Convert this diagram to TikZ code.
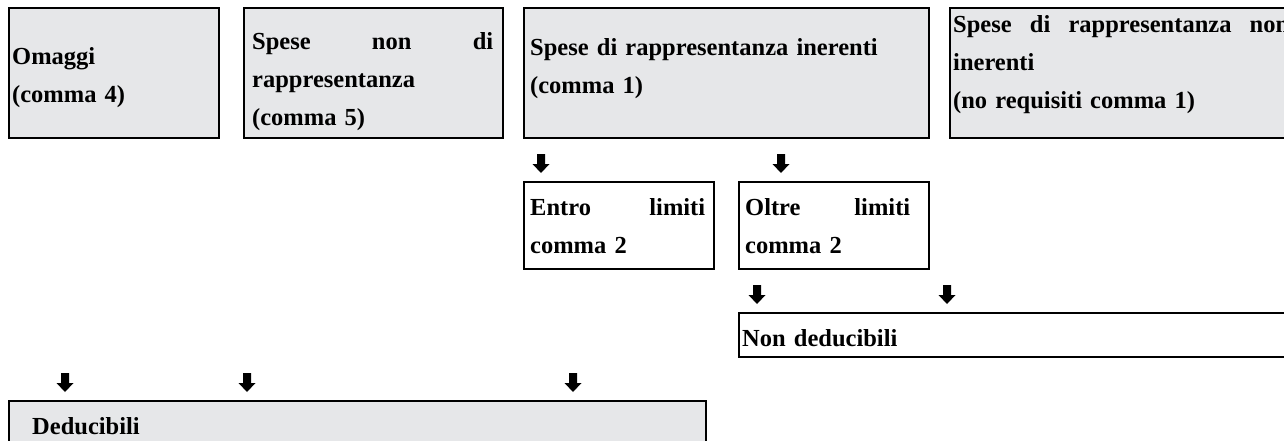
\documentclass[tikz,border=0pt]{standalone}
\usepackage{fontspec}
\setmainfont{Liberation Serif}
\definecolor{boxgray}{RGB}{230,231,233}
\begin{document}
\begin{tikzpicture}[x=1pt,y=-1pt,
  box/.style={draw=black, line width=2pt, inner sep=0pt, anchor=north west},
  graybox/.style={box, fill=boxgray},
  whitebox/.style={box, fill=white},
  txt/.style={anchor=base west, inner sep=0pt, align=left, font=\bfseries\fontsize{24.5}{38}\selectfont},
  darr/.pic={\fill[black] (-4,0) -- (4,0) -- (4,10) -- (8.5,10) -- (0,19) -- (-8.5,10) -- (-4,10) -- cycle;}
]
\useasboundingbox (0,0) rectangle (1284,441);
\clip (0,0) rectangle (1284,441);
% boxes
\node[graybox, minimum width=210, minimum height=130] (om) at (8,7) {};
\node[graybox, minimum width=259, minimum height=130] (snd) at (243,7) {};
\node[graybox, minimum width=405, minimum height=130] (sri) at (523,7) {};
\node[graybox, minimum width=350, minimum height=130] (srn) at (949,7) {};
\node[whitebox, minimum width=190, minimum height=87] (ent) at (523,181) {};
\node[whitebox, minimum width=190, minimum height=87] (olt) at (738,181) {};
\node[whitebox, minimum width=560, minimum height=44] (nded) at (738,312) {};
\node[graybox, minimum width=697, minimum height=60] (ded) at (8,400) {};
% texts
\node[txt, text width=200] (tom) at (12,65) {Omaggi\\(comma 4)};
\node[txt, text width=241] (tsnd) at (252,50) {\hbox to\linewidth{Spese\hfill non\hfill di}\\rappresentanza\\(comma 5)};
\node[txt, text width=390] (tsri) at (530,56) {Spese di rappresentanza inerenti\\(comma 1)};
\node[txt, text width=336] (tsrn) at (953,33) {\hbox to\linewidth{Spese\hfill di\hfill rappresentanza\hfill non}\\inerenti\\(no requisiti comma 1)};
\node[txt, text width=175] (tent) at (530,215) {\hbox to\linewidth{Entro\hfill limiti}\\comma 2};
\node[txt, text width=165] (tolt) at (745,215) {\hbox to\linewidth{Oltre\hfill limiti}\\comma 2};
\node[txt, text width=300] (tnd) at (742,346) {Non deducibili};
\node[txt, text width=300] (tded) at (32,434) {Deducibili};
% arrows
\pic (a1) at (541,154) {darr};
\pic (a2) at (781,154) {darr};
\pic (a3) at (757,285) {darr};
\pic (a4) at (947,285) {darr};
\pic (a5) at (65,373) {darr};
\pic (a6) at (247,373) {darr};
\pic (a7) at (573,373) {darr};
\end{tikzpicture}
\end{document}
